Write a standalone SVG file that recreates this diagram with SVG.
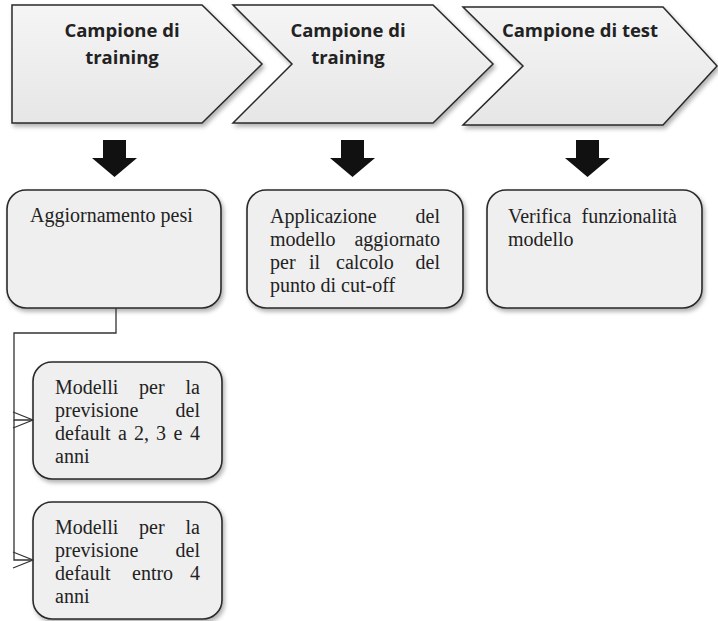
<svg xmlns="http://www.w3.org/2000/svg" width="718" height="621" viewBox="0 0 718 621">
<defs>
<linearGradient id="g" x1="0" y1="0" x2="0" y2="1">
<stop offset="0" stop-color="#f5f5f5"/>
<stop offset="1" stop-color="#e6e6e6"/>
</linearGradient>
<filter id="sh" x="-10%" y="-10%" width="120%" height="125%">
<feDropShadow dx="2" dy="3" stdDeviation="2" flood-color="#000" flood-opacity="0.3"/>
</filter>
<marker id="v" viewBox="0 0 22 20" markerWidth="22" markerHeight="20" refX="21" refY="10" orient="auto" markerUnits="userSpaceOnUse">
<path d="M1,2 L21,10 L1,18" fill="none" stroke="#333" stroke-width="1.3"/>
</marker>
</defs>
<style>
.chev{fill:url(#g);stroke:#2a2a2a;stroke-width:1.5;filter:url(#sh)}
.box{fill:#efefef;stroke:#2a2a2a;stroke-width:1.6;filter:url(#sh)}
.title{font-family:"Open Sans","Liberation Sans",sans-serif;font-weight:700;font-size:18.5px;fill:#222;text-anchor:middle}
.t{font-family:"Liberation Serif","Times New Roman",serif;font-size:20px;fill:#222}
.e{text-anchor:end}
.arr{fill:#111}
.con{fill:none;stroke:#333;stroke-width:1.3}
</style>
<rect width="718" height="621" fill="#fff"/>

<g id="chevron1">
<polygon class="chev" points="12,5 202,5 262,64 202,123 12,123"/>
<text class="title" x="122" y="37">Campione di</text>
<text class="title" x="122" y="64">training</text>
</g>
<g id="chevron2">
<polygon class="chev" points="233,5 433,5 493,64 433,123 233,123 292,64"/>
<text class="title" x="348" y="37">Campione di</text>
<text class="title" x="348" y="64">training</text>
</g>
<g id="chevron3">
<polygon class="chev" points="463,7 663,7 717,66 663,125 463,125 523,66"/>
<text class="title" x="580" y="37">Campione di test</text>
</g>

<g id="arrow1"><polygon class="arr" points="103,140 126,140 126,158 137,158 114.5,177 92,158 103,158"/></g>
<g id="arrow2"><polygon class="arr" transform="translate(238,0)" points="103,140 126,140 126,158 137,158 114.5,177 92,158 103,158"/></g>
<g id="arrow3"><polygon class="arr" transform="translate(473,0)" points="103,140 126,140 126,158 137,158 114.5,177 92,158 103,158"/></g>

<g id="box1">
<rect class="box" x="7" y="190" width="214" height="118" rx="19"/>
<text class="t" x="30" y="222">Aggiornamento pesi</text>
</g>
<g id="box2">
<rect class="box" x="247" y="190" width="216" height="118" rx="19"/>
<text class="t" x="270" y="223">Applicazione</text><text class="t e" x="440" y="223">del</text>
<text class="t" x="270" y="246">modello</text><text class="t e" x="440" y="246">aggiornato</text>
<text class="t" y="269"><tspan x="270">per</tspan><tspan x="309">il</tspan><tspan x="336">calcolo</tspan></text><text class="t e" x="440" y="269">del</text>
<text class="t" x="270" y="292">punto di cut-off</text>
</g>
<g id="box3">
<rect class="box" x="487" y="190" width="215" height="118" rx="19"/>
<text class="t" x="508" y="223">Verifica</text><text class="t e" x="677" y="223">funzionalità</text>
<text class="t" x="508" y="246">modello</text>
</g>
<g id="box4">
<rect class="box" x="33" y="362" width="189" height="117" rx="19"/>
<text class="t" y="394"><tspan x="55">Modelli</tspan><tspan x="139">per</tspan></text><text class="t e" x="200" y="394">la</text>
<text class="t" x="55" y="417">previsione</text><text class="t e" x="200" y="417">del</text>
<text class="t" y="440"><tspan x="55">default</tspan><tspan x="118">a</tspan><tspan x="134">2,</tspan><tspan x="156">3</tspan><tspan x="173.5">e</tspan></text><text class="t e" x="200" y="440">4</text>
<text class="t" x="55" y="463">anni</text>
</g>
<g id="box5">
<rect class="box" x="33" y="502" width="189" height="117" rx="19"/>
<text class="t" y="534"><tspan x="55">Modelli</tspan><tspan x="139">per</tspan></text><text class="t e" x="200" y="534">la</text>
<text class="t" x="55" y="557">previsione</text><text class="t e" x="200" y="557">del</text>
<text class="t" y="580"><tspan x="55">default</tspan><tspan x="132">entro</tspan></text><text class="t e" x="200" y="580">4</text>
<text class="t" x="55" y="603">anni</text>
</g>

<g id="connectors">
<path class="con" d="M116,308 V333 H14 V420 H33" marker-end="url(#v)"/>
<path class="con" d="M14,420 V560 H33" marker-end="url(#v)"/>
</g>
</svg>
